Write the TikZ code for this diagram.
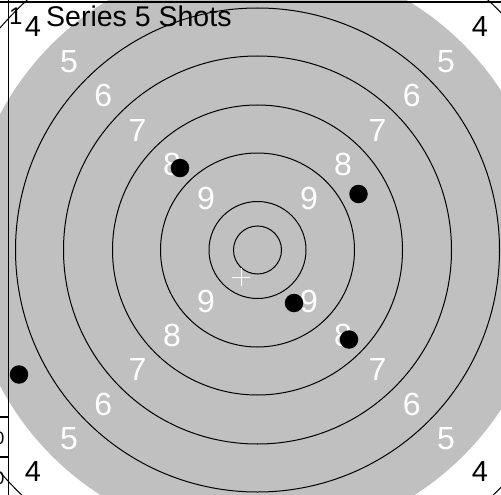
\documentclass[tikz,border=0pt]{standalone}
\usepackage{fontspec}
\usetikzlibrary{calc}
\setmainfont{Liberation Sans}
\definecolor{tgray}{RGB}{192,192,192}
\begin{document}
\begin{tikzpicture}[x=1pt,y=-1pt,
  ring/.style={draw=black,line width=1pt},
  wnum/.style={text=white,font=\fontsize{32}{32}\selectfont,inner sep=0pt},
  bnum/.style={text=black,font=\fontsize{29}{29}\selectfont,inner sep=0pt},
  shot/.style={circle,fill=black,minimum size=18.5pt,inner sep=0pt},
  frame/.style={draw=black,line width=1.2pt}]
\useasboundingbox (0,0) rectangle (501,495);
\fill[white] (0,0) rectangle (501,495);
\coordinate (c) at (257.5,250);
\draw[ring] (c) circle[radius=340];
\fill[tgray] (c) circle[radius=291];
\foreach \r in {242,194,145,97,48.5,24}{\draw[ring] (c) circle[radius=\r];}
% ring numbers
\foreach \n/\d in {5/188.4,6/154.2,7/119.9,8/85.6,9/51.4}{
  \node[wnum] (n\n tl) at ($(c)+(-\d,-\d)$) {\n};
  \node[wnum] (n\n tr) at ($(c)+(\d,-\d)$) {\n};
  \node[wnum] (n\n bl) at ($(c)+(-\d,\d)$) {\n};
  \node[wnum] (n\n br) at ($(c)+(\d,\d)$) {\n};
}
\node[bnum] (n4tl) at (33,27) {4};
\node[bnum] (n4tr) at (480,27) {4};
\node[bnum] (n4bl) at (33,472) {4};
\node[bnum] (n4br) at (480,472) {4};
% title
\node[anchor=base west,inner sep=0pt,font=\fontsize{28.5}{28.5}\selectfont] (title) at (46,27) {Series 5 Shots};
\node[anchor=base west,inner sep=0pt,font=\fontsize{24}{24}\selectfont] (one) at (9,25) {1};
% mean point cross
\coordinate (m) at (241,277);
\draw[white,line width=1pt] ($(m)+(-9,0)$) -- ($(m)+(9,0)$) ($(m)+(0,-9)$) -- ($(m)+(0,9)$);
% shots
\node[shot] (s1) at (180,168) {};
\node[shot] (s2) at (358.5,194) {};
\node[shot] (s3) at (294,303) {};
\node[shot] (s4) at (349,339.5) {};
\node[shot] (s5) at (19,374.5) {};
% frame
\draw[frame] (0,2) -- (501,2);
\draw[frame] (8.5,0) -- (8.5,495);
\draw[frame] (0,417) -- (8.5,417);
\draw[frame] (0,457) -- (8.5,457);
\node[anchor=east,inner sep=0pt,font=\fontsize{18}{18}\selectfont] (z1) at (4.5,438) {0};
\node[anchor=east,inner sep=0pt,font=\fontsize{18}{18}\selectfont] (z2) at (4.5,478) {0};
\end{tikzpicture}
\end{document}
